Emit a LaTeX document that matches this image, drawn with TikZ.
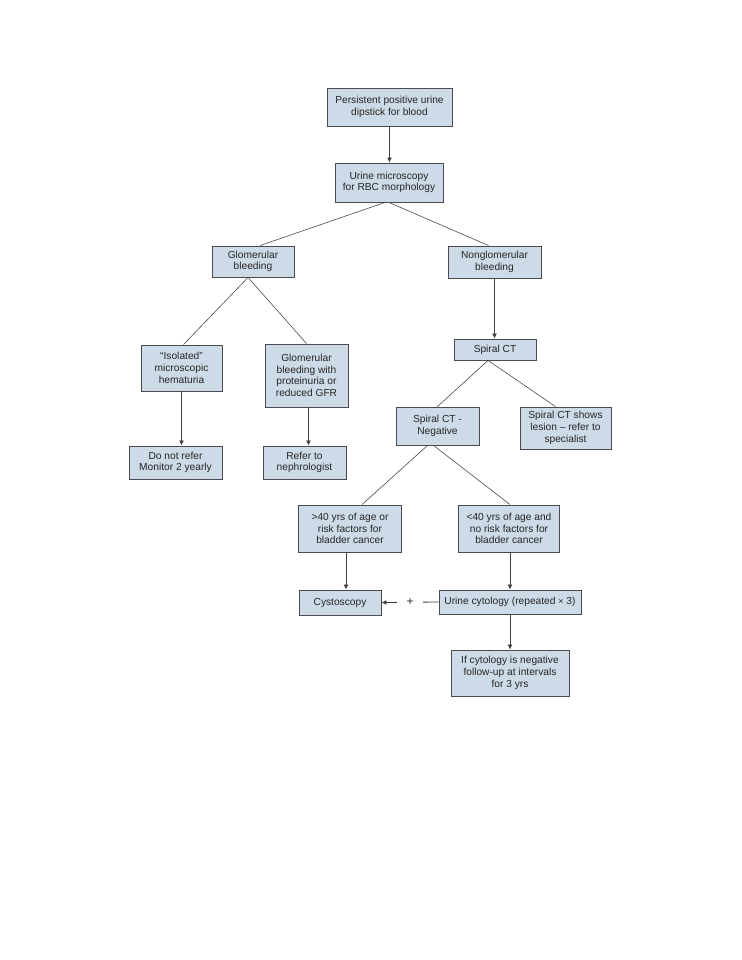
\documentclass[tikz,border=0pt]{standalone}
\usepackage{fontspec}
\setmainfont{Liberation Sans}
\usetikzlibrary{shapes,arrows.meta}
\definecolor{azul}{RGB}{205,218,231}
\definecolor{borde}{RGB}{75,75,80}
\tikzstyle{caja}=[rectangle,draw=borde,fill=azul,line width=.9pt,align=center,inner sep=1pt,font=\fontsize{10.2}{11.7}\selectfont,text=black!85]
\tikzstyle{flecha}=[-{Latex[length=5pt,width=5pt]},draw=black!75,line width=.8pt]
\tikzstyle{linea}=[draw=black!70,line width=.6pt]

\begin{document}
\begin{tikzpicture}[x=1pt,y=-1pt]
\useasboundingbox[fill=white] (0,0) rectangle (741,960);
\node[caja,minimum width=125,minimum height=38] (pers)   at (389.5,107) {Persistent positive urine\\dipstick for blood};
\node[caja,minimum width=108,minimum height=39] (micro)  at (389,182.5) {Urine microscopy\\for RBC morphology};
\node[caja,minimum width=82,minimum height=31]  (glom)   at (253,261.5) {Glomerular\\bleeding};
\node[caja,minimum width=93,minimum height=32]  (nonglom) at (494.5,262) {Nonglomerular\\bleeding};
\node[caja,minimum width=81,minimum height=46]  (iso)    at (181.5,368) {“Isolated”\\microscopic\\hematuria};
\node[caja,minimum width=83,minimum height=63]  (prot)   at (306.5,375.5) {Glomerular\\bleeding with\\proteinuria or\\reduced GFR};
\node[caja,minimum width=82,minimum height=21]  (sct)    at (495,349.5) {Spiral CT};
\node[caja,minimum width=83,minimum height=38]  (neg)    at (437.5,426) {Spiral CT -\\Negative};
\node[caja,minimum width=91,minimum height=42]  (lesion) at (565.5,428) {Spiral CT shows\\lesion -- refer to\\specialist};
\node[caja,minimum width=93,minimum height=33]  (dnr)    at (175.5,462.5) {Do not refer\\Monitor 2 yearly};
\node[caja,minimum width=83,minimum height=33]  (nefro)  at (304.5,462.5) {Refer to\\nephrologist};
\node[caja,minimum width=103,minimum height=47] (mayor)  at (350,528.5) {>40 yrs of age or\\risk factors for\\bladder cancer};
\node[caja,minimum width=101,minimum height=47] (menor)  at (509,528.5) {<40 yrs of age and\\no risk factors for\\bladder cancer};
\node[caja,minimum width=82,minimum height=25]  (cysto)  at (340,602.5) {Cystoscopy};
\node[caja,minimum width=142,minimum height=24] (cyto)   at (510,602) {Urine cytology (repeated {\small×} 3)};
\node[caja,minimum width=118,minimum height=46] (seguim) at (510,673) {If cytology is negative\\follow-up at intervals\\for 3 yrs};
%ramas
\draw[linea] ([xshift=-4]micro.south) -- ([xshift=7]glom.north);
\draw[linea] (micro.south) -- ([xshift=-6]nonglom.north);
\draw[linea] ([xshift=-5]glom.south) -- ([xshift=2]iso.north);
\draw[linea] ([xshift=-5]glom.south) -- (prot.north);
\draw[linea] ([xshift=-7]sct.south) -- (neg.north);
\draw[linea] ([xshift=-7]sct.south) -- ([xshift=-10]lesion.north);
\draw[linea] ([xshift=-10]neg.south) -- ([xshift=12]mayor.north);
\draw[linea] ([xshift=-4]neg.south) -- ([xshift=1]menor.north);
%flechas
\draw[flecha] (pers.south) -- (pers.south |- micro.north);
\draw[flecha] (nonglom.south) -- (nonglom.south |- sct.north);
\draw[flecha] (iso.south) -- (iso.south |- dnr.north);
\draw[flecha] ([xshift=2]prot.south) -- ([xshift=2]prot.south |- nefro.north);
\draw[flecha] ([xshift=-4]mayor.south) -- ([xshift=-4]mayor.south |- cysto.north);
\draw[flecha] ([xshift=1]menor.south) -- ([xshift=1]menor.south |- cyto.north);
\draw[flecha] (cyto.south) -- (cyto.south |- seguim.north);
\draw[flecha] (cyto.west) -- (cysto.east) node[midway,fill=white,minimum width=26,inner sep=0pt,font=\fontsize{12}{12}\selectfont,text=black!85] {+};
\end{tikzpicture}
\end{document}
